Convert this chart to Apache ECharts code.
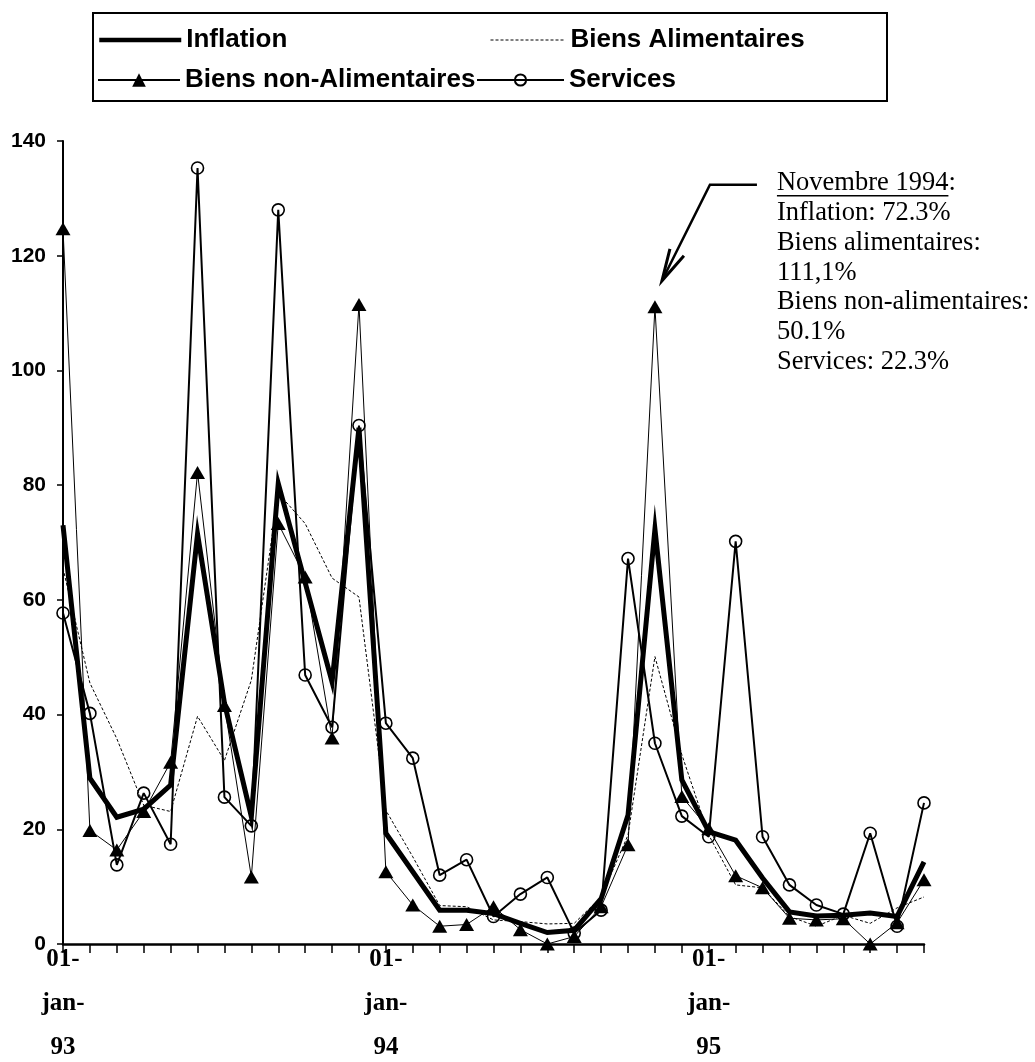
<!DOCTYPE html>
<html>
<head>
<meta charset="utf-8">
<script src="https://cdn.jsdelivr.net/npm/echarts@6/dist/echarts.min.js"></script>
<style>
html,body{margin:0;padding:0;background:#fff;}
#chart{width:1035px;height:1062px;}
</style>
</head>
<body>
<div id="chart"></div>
<script>
const categories = [
  '01-jan-93','01-fév-93','01-mar-93','01-avr-93','01-mai-93','01-jun-93','01-jul-93','01-aoû-93','01-sep-93','01-oct-93','01-nov-93','01-déc-93',
  '01-jan-94','01-fév-94','01-mar-94','01-avr-94','01-mai-94','01-jun-94','01-jul-94','01-aoû-94','01-sep-94','01-oct-94','01-nov-94','01-déc-94',
  '01-jan-95','01-fév-95','01-mar-95','01-avr-95','01-mai-95','01-jun-95','01-jul-95','01-aoû-95','01-sep-95'
];
const inflation = [73.0, 28.9, 22.1, 23.5, 27.7, 71.5, 42.0, 22.2, 80.3, 63.0, 45.7, 90.0, 19.3, 12.6, 5.9, 5.9, 5.3, 3.6, 2.0, 2.4, 7.9, 22.5, 72.3, 28.6, 19.6, 18.1, 11.5, 5.6, 4.9, 5.0, 5.4, 4.8, 14.3];
const biensAlimentaires = [65.5, 45.5, 35.8, 24.2, 23.1, 39.7, 32.0, 46.0, 78.6, 73.3, 63.8, 60.5, 23.3, 15.2, 6.7, 6.5, 4.2, 3.9, 3.5, 3.6, 8.2, 19.0, 50.1, 33.0, 19.0, 10.3, 9.8, 4.8, 3.1, 5.0, 3.6, 6.3, 8.2];
const biensNonAlimentaires = [124.7, 19.8, 16.4, 23.1, 31.7, 82.2, 41.6, 11.7, 73.3, 64.0, 35.9, 111.5, 12.6, 6.8, 3.1, 3.4, 6.5, 2.5, 0.0, 1.3, 6.5, 17.3, 111.1, 25.7, 20.1, 11.9, 9.8, 4.5, 4.2, 4.4, 0.0, 3.7, 11.2];
const services = [57.7, 40.2, 13.8, 26.3, 17.4, 135.3, 25.6, 20.6, 128.0, 46.9, 37.8, 90.4, 38.5, 32.4, 12.0, 14.7, 4.8, 8.7, 11.6, 1.9, 5.9, 67.2, 35.0, 22.3, 18.7, 70.2, 18.7, 10.3, 6.8, 5.2, 19.3, 3.1, 24.6];
const seriesNames = ['Inflation', 'Biens Alimentaires', 'Biens non-Alimentaires', 'Services'];
const yTicks = { min: 0, max: 140, interval: 20 };
const annotationIndex = 22;
const annotationLines = ['Inflation: 72.3%', 'Biens alimentaires:', '111,1%', 'Biens non-alimentaires:', '50.1%', 'Services: 22.3%'];
const annotationTitle = 'Novembre 1994';

const chart = echarts.init(document.getElementById('chart'), null, { renderer: 'canvas' });
const legendText = { fontFamily: '"Liberation Sans", Arial, sans-serif', fontWeight: 'bold', fontSize: 26, color: '#000' };
function lg(name, left, top, w, extra) {
  return Object.assign({ data: [name], left: left, top: top, padding: 0, itemWidth: w, itemHeight: 14, itemGap: 0, textStyle: legendText, selectedMode: false }, extra || {});
}
const option = {
  animation: false,
  backgroundColor: '#fff',
  grid: { left: 63, right: 111, top: 141, bottom: 118, outerBoundsMode: 'none', containLabel: false },
  legend: [
    lg(seriesNames[0], 97, 27, 82, { itemStyle: { opacity: 0 }, lineStyle: { width: 4.5 } }),
    lg(seriesNames[1], 490, 27, 75, { itemStyle: { opacity: 0 }, lineStyle: { width: 1, type: [3, 2] } }),
    lg(seriesNames[2], 97, 67, 82, { itemHeight: 17 }),
    lg(seriesNames[3], 476, 67, 87)
  ],
  xAxis: {
    type: 'category',
    data: categories,
    boundaryGap: false,
    axisLine: { lineStyle: { color: '#000', width: 2.5 } },
    axisTick: { show: true, interval: 0, length: 9, lineStyle: { color: '#000', width: 1.5 } },
    axisLabel: {
      interval: 0,
      margin: -6,
      color: '#000',
      fontFamily: '"Liberation Serif", "Times New Roman", serif',
      fontWeight: 'bold',
      fontSize: 25,
      lineHeight: 44,
      formatter: function (v, i) {
        if (v.indexOf('-jan-') < 0) return '';
        return v.split('-').map((s, k, a) => k < a.length - 1 ? s + '-' : s).join('\n');
      }
    },
    splitLine: { show: false }
  },
  yAxis: {
    type: 'value',
    min: yTicks.min, max: yTicks.max, interval: yTicks.interval,
    axisLine: { show: true, lineStyle: { color: '#000', width: 2 } },
    axisTick: { show: true, length: 6, lineStyle: { color: '#000', width: 1.5 } },
    axisLabel: { color: '#000', fontFamily: '"Liberation Sans", Arial, sans-serif', fontWeight: 'bold', fontSize: 21, margin: 17 },
    splitLine: { show: false }
  },
  series: [
    {
      name: seriesNames[0], type: 'line', data: inflation, showSymbol: false, symbol: 'none',
      lineStyle: { color: '#000', width: 5, join: 'miter' }, itemStyle: { color: '#000' }, z: 3
    },
    {
      name: seriesNames[1], type: 'line', data: biensAlimentaires, showSymbol: false, symbol: 'none',
      lineStyle: { color: '#000', width: 1, type: [3, 2] }, itemStyle: { color: '#000' }, z: 2
    },
    {
      name: seriesNames[2], type: 'line', data: biensNonAlimentaires, symbol: 'triangle', symbolSize: [15, 13], showAllSymbol: true,
      lineStyle: { color: '#000', width: 1 }, itemStyle: { color: '#000' }, z: 4
    },
    {
      name: seriesNames[3], type: 'line', data: services, symbol: 'circle', symbolSize: 12, showAllSymbol: true,
      lineStyle: { color: '#000', width: 2 }, itemStyle: { color: 'rgba(255,255,255,0)', borderColor: '#000', borderWidth: 1.6 }, z: 5
    }
  ]
};
chart.setOption(option);

// Legend frame and annotation anchored on the November 1994 point
const p = chart.convertToPixel({ gridIndex: 0 }, [annotationIndex, biensNonAlimentaires[annotationIndex]]);
const tip = [p[0] + 7, p[1] - 26];
const elbow = [tip[0] + 48, tip[1] - 96];
const start = [elbow[0] + 47, elbow[1]];
const textLeft = start[0] + 20;
const textTop = elbow[1] - 15;
const lineH = 29.8;
const annFont = '26.5px "Liberation Serif", "Times New Roman", serif';
const graphics = [
  { type: 'rect', shape: { x: 93, y: 13, width: 794, height: 88 }, style: { fill: 'none', stroke: '#000', lineWidth: 2 }, silent: true },
  { type: 'polyline', shape: { points: [start, elbow, tip] }, style: { stroke: '#000', lineWidth: 2.5, fill: 'none' } },
  { type: 'polyline', shape: { points: [[tip[0] + 8, tip[1] - 32], tip, [tip[0] + 22, tip[1] - 25]] }, style: { stroke: '#000', lineWidth: 3, fill: 'none' } },
  { type: 'text', left: textLeft, top: textTop, style: { text: annotationTitle + ':', font: annFont, fill: '#000' } }
];
const ctx = document.createElement('canvas').getContext('2d');
ctx.font = annFont;
const uw = ctx.measureText(annotationTitle).width;
graphics.push({ type: 'line', shape: { x1: textLeft, y1: textTop + 26, x2: textLeft + uw, y2: textTop + 26 }, style: { stroke: '#000', lineWidth: 1.5 } });
annotationLines.forEach((t, i) => {
  graphics.push({ type: 'text', left: textLeft, top: textTop + lineH * (i + 1), style: { text: t, font: annFont, fill: '#000' } });
});
chart.setOption({ graphic: graphics });
</script>
</body>
</html>
